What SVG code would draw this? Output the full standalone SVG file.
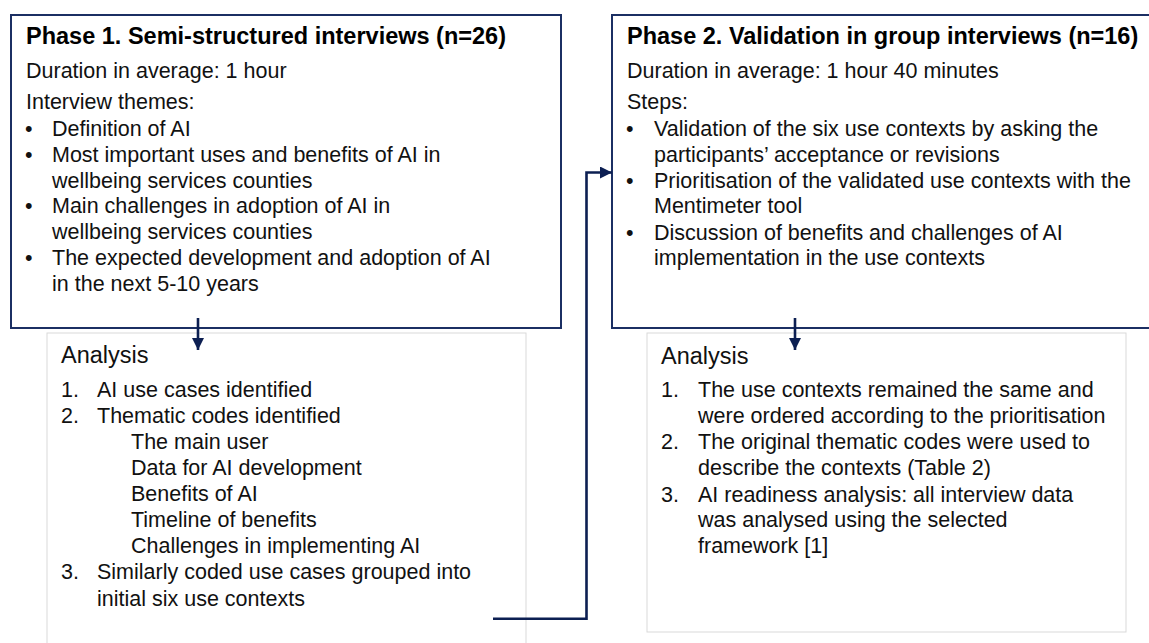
<svg xmlns="http://www.w3.org/2000/svg" width="1149" height="643" viewBox="0 0 1149 643">
  <style>
    text { font-family: "Liberation Sans", Arial, sans-serif; fill: #111111; }
    .title { font-size: 23.5px; font-weight: bold; fill: #000000; }
    .body { font-size: 21.5px; }
    .head { font-size: 23.5px; }
    .phase { fill: #ffffff; stroke: #1B2F63; stroke-width: 2; }
    .analysis { fill: #ffffff; stroke: #D9D9D9; stroke-width: 1; }
    .conn { fill: none; stroke: #0C1F52; stroke-width: 2.6; }
  </style>
  <defs>
    <marker id="arrow" markerUnits="userSpaceOnUse" markerWidth="12" markerHeight="12" viewBox="0 0 11 11" refX="11" refY="5.5" orient="auto">
      <path d="M0,0 L11,5.5 L0,11 Z" fill="#0C1F52"/>
    </marker>
  </defs>
  <rect width="1149" height="643" fill="#ffffff"/>

  <g id="analysis1">
    <rect class="analysis" x="47" y="333" width="479" height="330"/>
    <text class="head" x="61" y="363">Analysis</text>
    <text class="body" x="61" y="397">1.</text>
    <text class="body" x="97" y="397">AI use cases identified</text>
    <text class="body" x="61" y="423">2.</text>
    <text class="body" x="97" y="423">Thematic codes identified</text>
    <text class="body" x="131" y="449">The main user</text>
    <text class="body" x="131" y="475">Data for AI development</text>
    <text class="body" x="131" y="501">Benefits of AI</text>
    <text class="body" x="131" y="527">Timeline of benefits</text>
    <text class="body" x="131" y="553">Challenges in implementing AI</text>
    <text class="body" x="61" y="579">3.</text>
    <text class="body" x="97" y="579">Similarly coded use cases grouped into</text>
    <text class="body" x="97" y="606">initial six use contexts</text>
  </g>

  <g id="analysis2">
    <rect class="analysis" x="647" y="333" width="479" height="299"/>
    <text class="head" x="661" y="364">Analysis</text>
    <text class="body" x="661" y="397">1.</text>
    <text class="body" x="698" y="397">The use contexts remained the same and</text>
    <text class="body" x="698" y="423">were ordered according to the prioritisation</text>
    <text class="body" x="661" y="449">2.</text>
    <text class="body" x="698" y="449">The original thematic codes were used to</text>
    <text class="body" x="698" y="475">describe the contexts (Table 2)</text>
    <text class="body" x="661" y="502">3.</text>
    <text class="body" x="698" y="502">AI readiness analysis: all interview data</text>
    <text class="body" x="698" y="527">was analysed using the selected</text>
    <text class="body" x="698" y="553">framework [1]</text>
  </g>

  <g id="phase1">
    <rect class="phase" x="11" y="15" width="550" height="313"/>
    <text class="title" x="26" y="44">Phase 1. Semi-structured interviews (n=26)</text>
    <text class="body" x="26" y="78">Duration in average: 1 hour</text>
    <text class="body" x="26" y="109">Interview themes:</text>
    <text class="body" x="25" y="136">•</text>
    <text class="body" x="52" y="136">Definition of AI</text>
    <text class="body" x="25" y="162">•</text>
    <text class="body" x="52" y="162">Most important uses and benefits of AI in</text>
    <text class="body" x="52" y="188">wellbeing services counties</text>
    <text class="body" x="25" y="213">•</text>
    <text class="body" x="52" y="213">Main challenges in adoption of AI in</text>
    <text class="body" x="52" y="239">wellbeing services counties</text>
    <text class="body" x="25" y="265">•</text>
    <text class="body" x="52" y="265">The expected development and adoption of AI</text>
    <text class="body" x="52" y="291">in the next 5-10 years</text>
  </g>

  <g id="phase2">
    <rect class="phase" x="612" y="15" width="560" height="313"/>
    <text class="title" x="627" y="44">Phase 2. Validation in group interviews (n=16)</text>
    <text class="body" x="627" y="78">Duration in average: 1 hour 40 minutes</text>
    <text class="body" x="627" y="109">Steps:</text>
    <text class="body" x="626" y="136">•</text>
    <text class="body" x="654" y="136">Validation of the six use contexts by asking the</text>
    <text class="body" x="654" y="162">participants’ acceptance or revisions</text>
    <text class="body" x="626" y="188">•</text>
    <text class="body" x="654" y="188">Prioritisation of the validated use contexts with the</text>
    <text class="body" x="654" y="213">Mentimeter tool</text>
    <text class="body" x="626" y="240">•</text>
    <text class="body" x="654" y="240">Discussion of benefits and challenges of AI</text>
    <text class="body" x="654" y="265">implementation in the use contexts</text>
  </g>

  <g id="connectors">
    <path class="conn" d="M198,318 V350" marker-end="url(#arrow)"/>
    <path class="conn" d="M795,318 V350" marker-end="url(#arrow)"/>
    <path class="conn" d="M493,618.7 H586.5 V172.5 H612" marker-end="url(#arrow)"/>
  </g>
</svg>
